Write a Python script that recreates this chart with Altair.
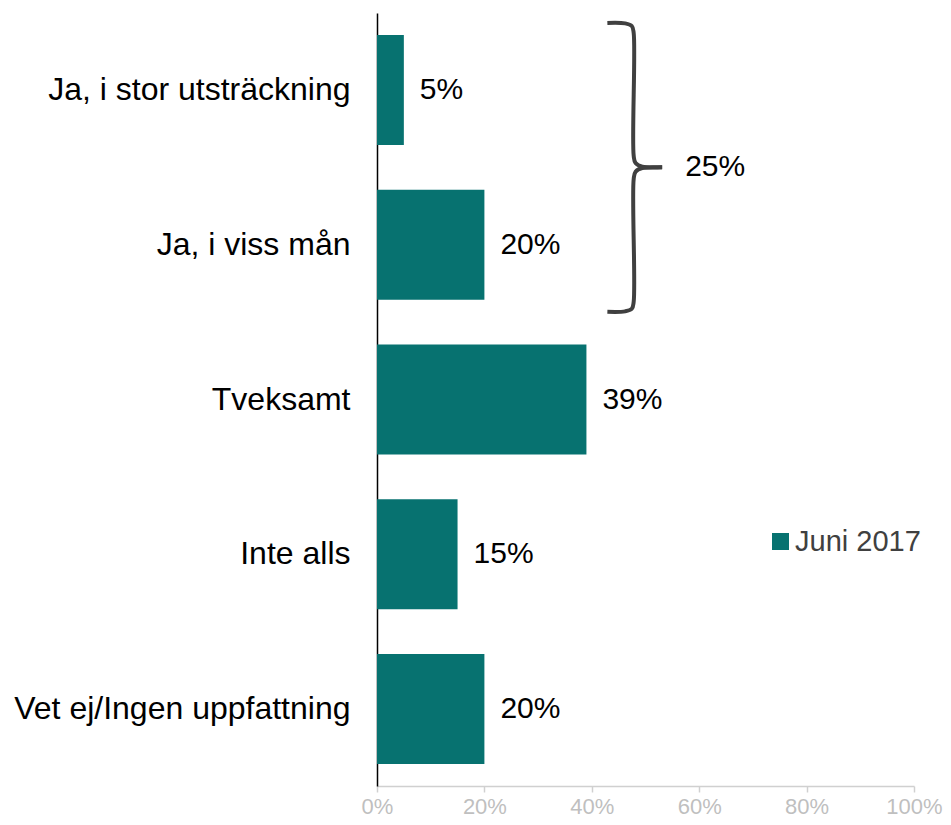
import altair as alt
import pandas as pd

# ---- data ----
categories = ["Ja, i stor utsträckning", "Ja, i viss mån", "Tveksamt",
              "Inte alls", "Vet ej/Ingen uppfattning"]
values = [5, 20, 39, 15, 20]
series_name = "Juni 2017"
x_ticks = [0, 20, 40, 60, 80, 100]
brace_group = [0, 1]          # category indices joined by the brace

# ---- layout constants ----
W, H = 537, 773
PI, PO = 0.289, 0.142
BAR_COLOR = "#077270"
FONT = "Liberation Sans"

df = pd.DataFrame({"category": categories, "value": values,
                   "series": [series_name] * len(categories),
                   "label": [f"{v}%" for v in values]})

x_scale = alt.Scale(domain=[0, 100], nice=False)
y_scale = alt.Scale(domain=categories, paddingInner=PI, paddingOuter=PO)

x_axis = alt.Axis(values=x_ticks, labelExpr="datum.value + '%'", grid=False,
                  labelColor="#BFBFBF", labelFontSize=22, labelFont=FONT,
                  labelFlush=False, labelOverlap=False,
                  domainColor="#D0D0D0", domainWidth=1.5, tickColor="#D0D0D0",
                  tickWidth=1.5, tickSize=6, labelPadding=4)
y_axis = alt.Axis(ticks=False, domainColor="#000000", domainWidth=1.5,
                  labelColor="#000000", labelFontSize=32, labelFont=FONT,
                  labelPadding=27, labelLimit=500)

bars = alt.Chart(df).mark_bar().encode(
    x=alt.X("value:Q", scale=x_scale, title=None, axis=x_axis),
    y=alt.Y("category:N", sort=categories, scale=y_scale, title=None, axis=y_axis),
    color=alt.Color("series:N", scale=alt.Scale(range=[BAR_COLOR]),
                    legend=alt.Legend(orient="none", legendX=389, legendY=514, title=None,
                                      symbolType="square", symbolSize=289,
                                      symbolStrokeWidth=0, labelFontSize=29,
                                      labelFont=FONT, labelColor="#404040",
                                      labelOffset=0, padding=0)),
)

labels = alt.Chart(df).mark_text(align="left", baseline="middle", dx=16,
                                 fontSize=30, font=FONT, color="#000000").encode(
    x=alt.X("value:Q", scale=x_scale, title=None, axis=x_axis),
    y=alt.Y("category:N", sort=categories, scale=y_scale, title=None, axis=y_axis),
    text="label:N",
)

# ---- brace annotation, in (percent, category-step) units ----
n = len(categories)
y_lo = -(PO + (1 - PI) / 2)
y_hi = y_lo + (n - PI + 2 * PO)
g0, g1 = brace_group[0], brace_group[-1]
ext = (1 - PI) / 2 + 0.078
y_top, y_bot, y_mid = g0 - ext, g1 + ext, (g0 + g1) / 2
x_base, x_spine, x_tip = 42.9, 47.8, 53.1

def half(sign, y_end):
    s = sign
    return [
        (x_base, y_end),
        (x_spine - 1.6, y_end + s * 0.003),
        (x_spine - 0.35, y_end + s * 0.02),
        (x_spine, y_end + s * 0.065),
        (x_spine, y_mid - s * 0.075),
        (x_spine + 0.35, y_mid - s * 0.028),
        (x_spine + 1.6, y_mid - s * 0.004),
        (x_tip, y_mid),
    ]

rows = []
for part, (sgn, yend) in {"upper": (1, y_top), "lower": (-1, y_bot)}.items():
    for i, (xx, yy) in enumerate(half(sgn, yend)):
        rows.append({"part": part, "i": i, "x": xx, "y": yy})
brace_df = pd.DataFrame(rows)

yq = alt.Scale(domain=[y_lo, y_hi], reverse=True, nice=False, zero=False)

brace = alt.Chart(brace_df).mark_line(color="#404040", strokeWidth=4,
                                      interpolate="catmull-rom").encode(
    x=alt.X("x:Q", scale=x_scale, title=None, axis=x_axis),
    y=alt.Y("y:Q", scale=yq, axis=None),
    detail="part:N",
    order="i:Q",
)

total = sum(values[i] for i in brace_group)
brace_lab_df = pd.DataFrame({"x": [x_tip], "y": [y_mid], "t": [f"{total}%"]})
brace_label = alt.Chart(brace_lab_df).mark_text(align="left", baseline="middle", dx=23,
                                                fontSize=30, font=FONT,
                                                color="#000000").encode(
    x=alt.X("x:Q", scale=x_scale, title=None, axis=x_axis),
    y=alt.Y("y:Q", scale=yq, axis=None),
    text="t:N",
)

chart = alt.layer(
    alt.layer(bars, labels),
    alt.layer(brace, brace_label),
).resolve_scale(y="independent").properties(
    width=W, height=H,
    autosize=alt.AutoSizeParams(type="none"),
    padding={"left": 369, "top": 5, "right": 29, "bottom": 31},
).configure(background="white").configure_view(stroke=None)

chart.save("out.html", embed_options={"renderer": "svg", "actions": False})
